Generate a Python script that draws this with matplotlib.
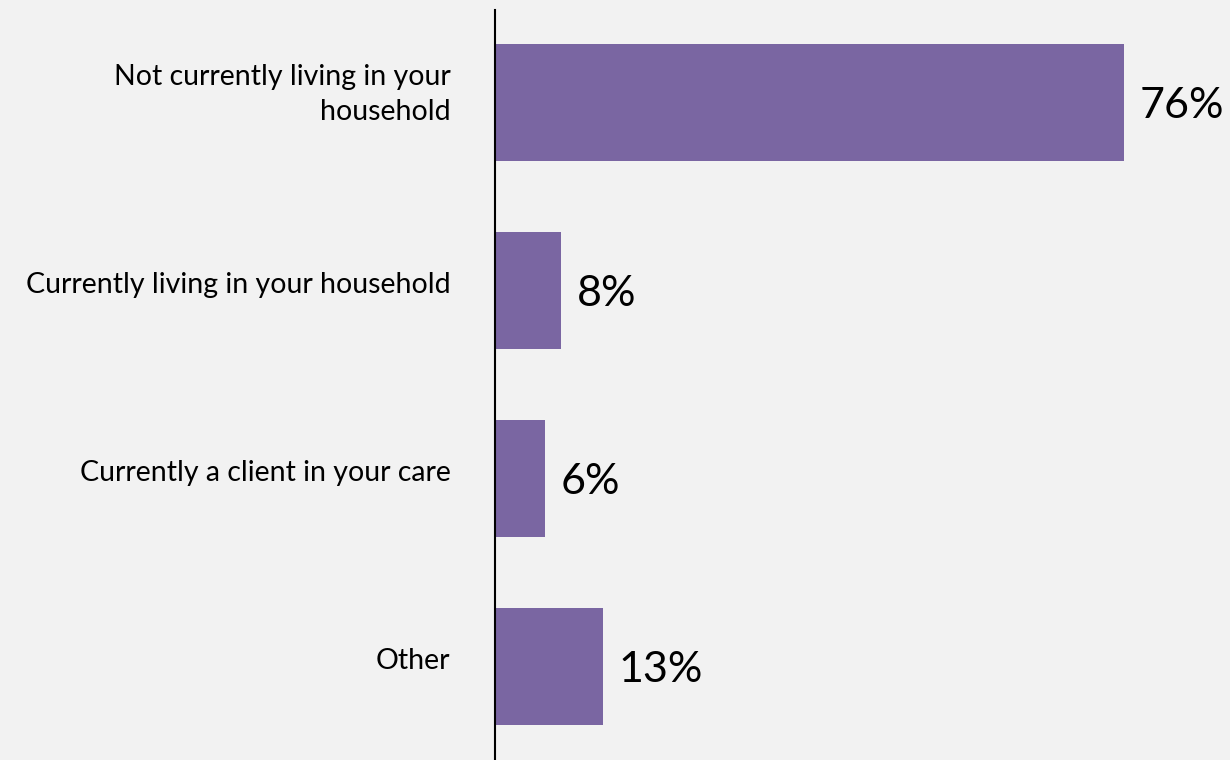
import matplotlib.pyplot as plt
from matplotlib.transforms import ScaledTranslation

categories = ['Not currently living in your\nhousehold',
              'Currently living in your household',
              'Currently a client in your care',
              'Other']
values = [76, 8, 6, 13]
value_labels = ['76%', '8%', '6%', '13%']

bg = '#F2F2F2'
bar_color = '#7A66A2'

fig = plt.figure(figsize=(12.3, 7.6), dpi=100, facecolor=bg)
ax = fig.add_axes([495 / 1230, 0, 1 - 495 / 1230, 1 - 10 / 760])
ax.set_facecolor(bg)

pos = list(range(len(categories)))
ax.barh(pos, values, height=0.62, color=bar_color)

for y, v, lab in zip(pos, values, value_labels):
    ax.text(v + 1.9, y + 0.02, lab, va='center', ha='left',
            fontsize=31, family='Lato', color='black')

ax.set_xlim(0, (1230 - 495) / 8.28)
ax.set_ylim(3.497, -0.492)
ax.set_yticks(pos)
ax.set_yticklabels(categories, fontsize=20.5, family='Lato', ha='right',
                   linespacing=1.45)
ax.tick_params(axis='y', length=0, pad=32)
# labels sit a bit above the bar centres
for t in ax.get_yticklabels():
    up = 15 if '\n' in t.get_text() else 8
    shift = ScaledTranslation(0, up / 100, fig.dpi_scale_trans)
    t.set_transform(t.get_transform() + shift)
ax.set_xticks([])
for side in ['top', 'right', 'bottom']:
    ax.spines[side].set_visible(False)
ax.spines['left'].set_linewidth(1.5)
ax.spines['left'].set_color('black')

fig.savefig('out.png', dpi=100, facecolor=bg)
